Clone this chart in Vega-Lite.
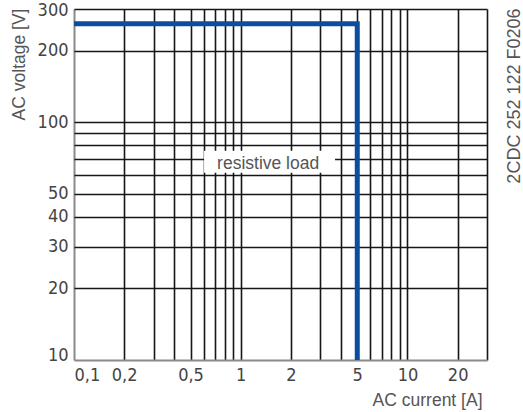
{
  "$schema": "https://vega.github.io/schema/vega-lite/v6.json",
  "width": 413,
  "height": 351,
  "autosize": {"type": "none"},
  "padding": {"left": 74, "top": 9, "right": 36, "bottom": 52},
  "background": "white",
  "config": {"view": {"stroke": null}},
  "resolve": {"axis": {"y": "independent"}},
  "layer": [
    {
      "data": {"values": [{"box": "resistive load"}]},
      "mark": {"type": "rect", "fill": "white"},
      "encoding": {
        "x": {
          "datum": 0.6026,
          "type": "quantitative",
          "scale": {"type": "log", "domain": [0.1, 30], "nice": false},
          "axis": {
            "values": [0.1, 0.2, 0.3, 0.4, 0.5, 0.6, 0.7, 0.8, 0.9, 1, 2, 3, 4, 5, 6, 7, 8, 9, 10, 20, 30],
            "grid": true,
            "gridColor": {"condition": {"test": "datum.value == 0.1", "value": "#8a8a8a"}, "value": "#161616"},
            "gridWidth": {"condition": {"test": "datum.value == 0.1", "value": 2}, "value": 1.6},
            "domain": false,
            "ticks": false,
            "labelExpr": "indexof([0.1, 0.2, 0.5, 1, 2, 5, 10, 20], datum.value) >= 0 ? replace(format(datum.value, '~g'), '.', ',') : ''",
            "labelFont": "DejaVu Sans Condensed, Liberation Sans Narrow, sans-serif",
            "labelFontSize": 18,
            "labelColor": "#444444",
            "labelPadding": 6,
            "labelAlign": {"condition": {"test": "datum.value == 0.1", "value": "left"}, "value": "center"},
            "labelBaseline": "top",
            "labelOverlap": false,
            "labelFlush": false,
            "labelBound": false,
            "title": "AC current [A]",
            "titleFont": "Liberation Sans, Arial, sans-serif",
            "titleFontSize": 17.5,
            "titleFontWeight": "normal",
            "titleColor": "#555555",
            "titleX": 408,
            "titleY": 45,
            "titleAlign": "right",
            "titleBaseline": "alphabetic",
            "titleAngle": 0
          }
        },
        "x2": {"datum": 3.68},
        "y": {
          "datum": 61.4,
          "type": "quantitative",
          "scale": {"type": "log", "domain": [10, 300], "nice": false},
          "axis": {
            "orient": "left",
            "values": [10, 20, 30, 40, 50, 60, 70, 80, 90, 100, 200, 300],
            "grid": true,
            "gridColor": {"condition": {"test": "datum.value == 10", "value": "#8a8a8a"}, "value": "#161616"},
            "gridWidth": {"condition": {"test": "datum.value == 10", "value": 2}, "value": 1.6},
            "domain": false,
            "ticks": false,
            "labelExpr": "indexof([10, 20, 30, 40, 50, 100, 200, 300], datum.value) >= 0 ? format(datum.value, 'd') : ''",
            "labelFont": "DejaVu Sans Condensed, Liberation Sans Narrow, sans-serif",
            "labelFontSize": 18,
            "labelColor": "#444444",
            "labelPadding": 6,
            "labelAlign": "right",
            "labelBaseline": {"condition": {"test": "datum.value == 10", "value": "alphabetic"}, "value": "middle"},
            "labelOffset": {"condition": {"test": "datum.value == 300", "value": 1}, "value": 0},
            "labelOverlap": false,
            "labelFlush": false,
            "labelBound": false,
            "title": "AC voltage [V]",
            "titleFont": "Liberation Sans, Arial, sans-serif",
            "titleFontSize": 17.5,
            "titleFontWeight": "normal",
            "titleColor": "#555555",
            "titleAngle": 270,
            "titleAlign": "right",
            "titleBaseline": "middle",
            "titleX": -55,
            "titleY": -1
          }
        },
        "y2": {"datum": 76}
      }
    },
    {
      "data": {"values": [{"label": "resistive load", "current": 1.46, "voltage": 63.5}]},
      "mark": {
        "type": "text",
        "font": "Liberation Sans, Arial, sans-serif",
        "fontSize": 17.5,
        "color": "#555555",
        "align": "center",
        "baseline": "alphabetic"
      },
      "encoding": {
        "x": {"field": "current", "type": "quantitative", "title": "AC current [A]"},
        "y": {"field": "voltage", "type": "quantitative", "axis": null},
        "text": {"field": "label"}
      }
    },
    {
      "data": {
        "values": [
          {"seq": 1, "current": 0.1, "voltage": 260},
          {"seq": 2, "current": 5, "voltage": 260},
          {"seq": 3, "current": 5, "voltage": 10}
        ]
      },
      "mark": {"type": "line", "color": "#0b4e9f", "strokeWidth": 5, "strokeCap": "butt", "strokeJoin": "miter"},
      "encoding": {
        "x": {"field": "current", "type": "quantitative", "title": "AC current [A]"},
        "y": {
          "field": "voltage",
          "type": "quantitative",
          "axis": {
            "orient": "right",
            "labels": false,
            "ticks": false,
            "domain": false,
            "grid": false,
            "title": "2CDC 252 122 F0206",
            "titleFont": "Liberation Sans, Arial, sans-serif",
            "titleFontSize": 18,
            "titleFontWeight": "normal",
            "titleColor": "#555555",
            "titleAngle": 270,
            "titleAlign": "right",
            "titleBaseline": "middle",
            "titleX": 27.5,
            "titleY": -1
          }
        },
        "order": {"field": "seq"}
      }
    }
  ]
}
